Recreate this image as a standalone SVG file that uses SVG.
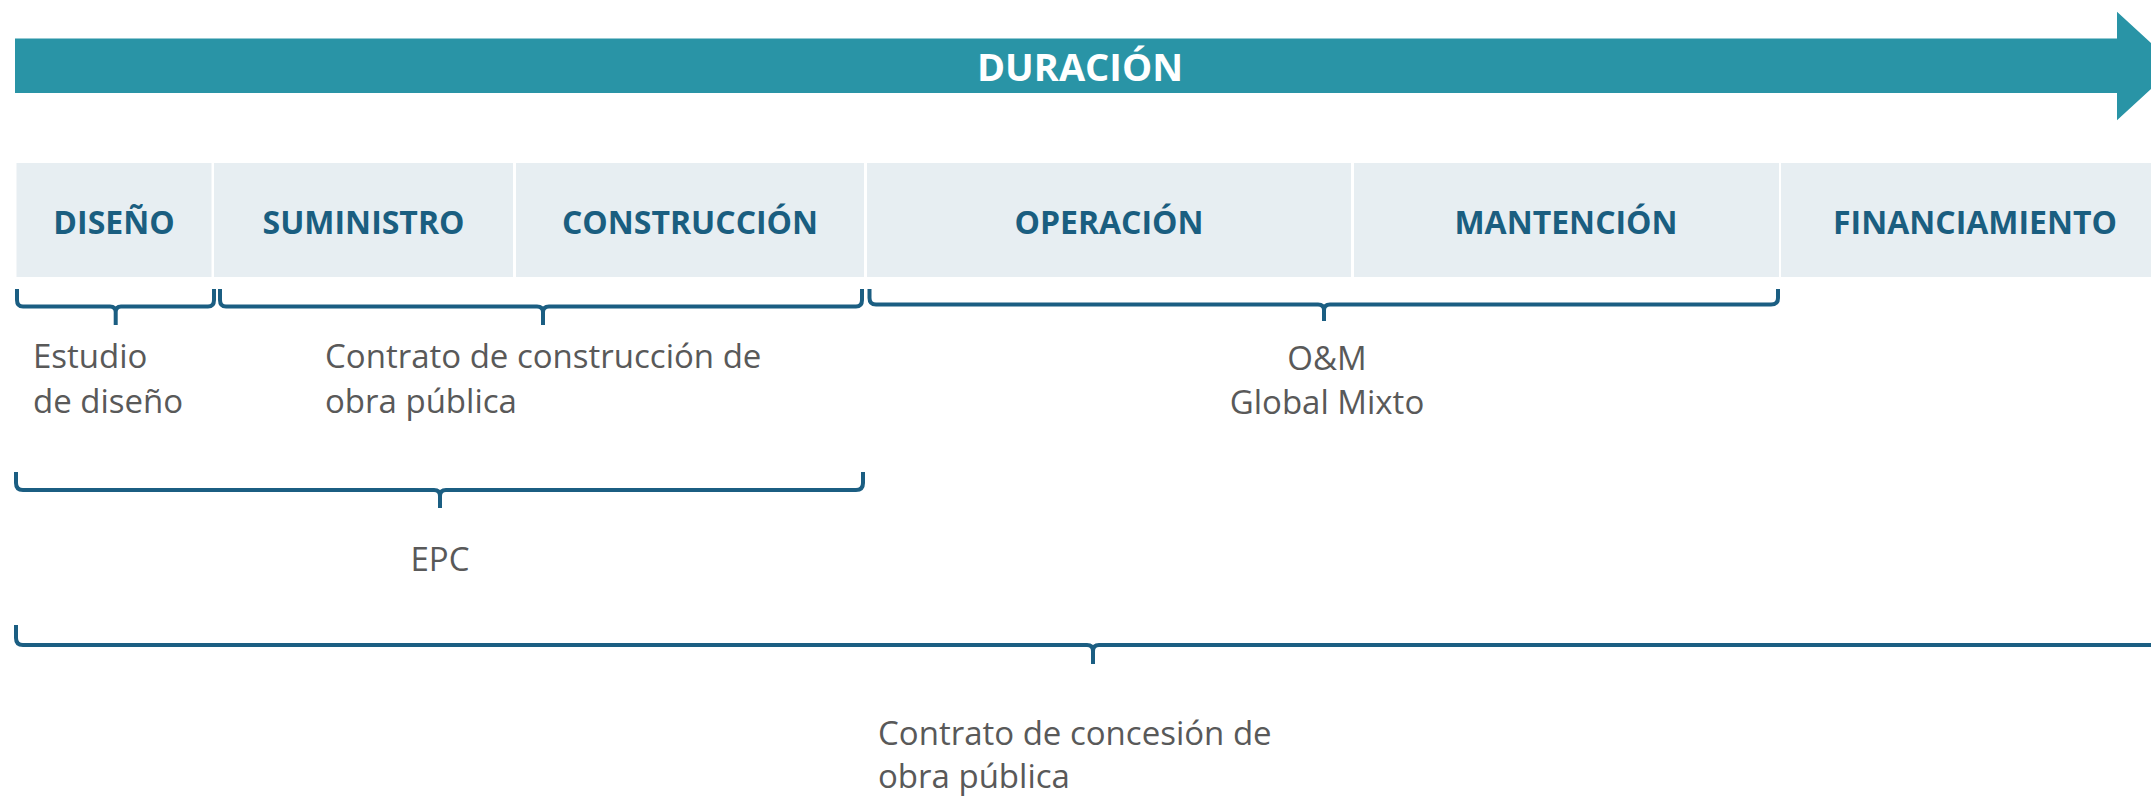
<svg xmlns="http://www.w3.org/2000/svg" width="2151" height="796" viewBox="0 0 2151 796">
<style>
.cell{fill:#E7EEF2}
.ct{font-family:"Open Sans","Liberation Sans",sans-serif;font-weight:700;font-size:32px;fill:#1A5E80;text-anchor:middle}
.bt{font-family:"Open Sans","Liberation Sans",sans-serif;font-size:33px;fill:#595959}
.brace{fill:none;stroke:#1B5E82;stroke-width:4;stroke-linejoin:round;stroke-linecap:butt}
</style>
<rect width="2151" height="796" fill="#FFFFFF"/>
<g id="duracion">
<polygon points="15,38.5 2117,38.5 2117,11.7 2176,66 2117,120.3 2117,93 15,93" fill="#2994A6"/>
<text x="1080" y="81" font-family="'Open Sans','Liberation Sans',sans-serif" font-weight="700" font-size="38" fill="#FFFFFF" text-anchor="middle">DURACIÓN</text>
</g>
<g id="cell-diseno"><rect class="cell" x="16.5" y="163" width="195" height="114"/><text class="ct" x="114" y="234">DISEÑO</text></g>
<g id="cell-suministro"><rect class="cell" x="214" y="163" width="299" height="114"/><text class="ct" x="363.5" y="234">SUMINISTRO</text></g>
<g id="cell-construccion"><rect class="cell" x="516" y="163" width="348" height="114"/><text class="ct" x="690" y="234">CONSTRUCCIÓN</text></g>
<g id="cell-operacion"><rect class="cell" x="867" y="163" width="484" height="114"/><text class="ct" x="1109" y="234">OPERACIÓN</text></g>
<g id="cell-mantencion"><rect class="cell" x="1354" y="163" width="425" height="114"/><text class="ct" x="1566" y="234">MANTENCIÓN</text></g>
<g id="cell-financiamiento"><rect class="cell" x="1781" y="163" width="390" height="114"/><text class="ct" x="1975" y="234">FINANCIAMIENTO</text></g>
<g id="connectors">
<path class="brace" d="M17,289 L17,300 Q17,306.5 23,306.5 L110,306.5 Q115.7,306.5 115.7,312 L115.7,325 M115.7,312 Q115.7,306.5 121,306.5 L208,306.5 Q214,306.5 214,300 L214,289"/>
<path class="brace" d="M220,289 L220,300 Q220,306.5 226,306.5 L537,306.5 Q543,306.5 543,312 L543,325 M543,312 Q543,306.5 549,306.5 L856,306.5 Q862,306.5 862,300 L862,289"/>
<path class="brace" d="M869.5,289 L869.5,298 Q869.5,304.5 876,304.5 L1318,304.5 Q1324,304.5 1324,310 L1324,321 M1324,310 Q1324,304.5 1330,304.5 L1771,304.5 Q1778,304.5 1778,298 L1778,289"/>
<path class="brace" d="M16,472 L16,483 Q16,490 23,490 L434,490 Q440,490 440,496 L440,508 M440,496 Q440,490 446,490 L856,490 Q863,490 863,483 L863,472"/>
<path class="brace" d="M16,625 L16,638 Q16,645 23,645 L1087,645 Q1093,645 1093,651 L1093,664 M1093,651 Q1093,645 1099,645 L2170,645"/>
</g>
<g id="label-estudio"><text class="bt" x="33" y="368">Estudio</text><text class="bt" x="33" y="413">de diseño</text></g>
<g id="label-contrato-construccion"><text class="bt" x="325" y="368">Contrato de construcción de</text><text class="bt" x="325" y="413">obra pública</text></g>
<g id="label-om"><text class="bt" x="1327" y="370" text-anchor="middle">O&amp;M</text><text class="bt" x="1327" y="414" text-anchor="middle">Global Mixto</text></g>
<g id="label-epc"><text class="bt" x="440" y="571" text-anchor="middle">EPC</text></g>
<g id="label-concesion"><text class="bt" x="878" y="745">Contrato de concesión de</text><text class="bt" x="878" y="788">obra pública</text></g>
</svg>
